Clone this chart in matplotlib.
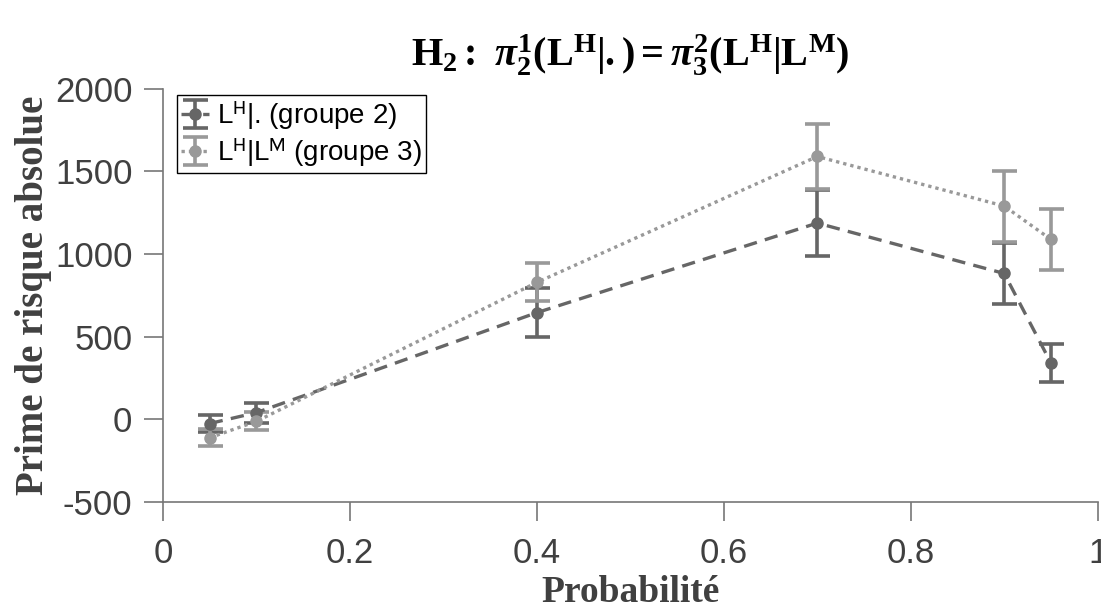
import numpy as np
import matplotlib
matplotlib.use('Agg')
import matplotlib.pyplot as plt

# données
probabilite = [0.05, 0.1, 0.4, 0.7, 0.9, 0.95]
prime_g2 = [-26, 40, 645, 1187, 882, 340]
err_g2 = [54, 60, 147, 202, 182, 113]
prime_g3 = [-112, -13, 828, 1590, 1290, 1088]
err_g3 = [52, 54, 115, 195, 215, 187]

plt.rcParams['font.family'] = ['Liberation Sans', 'DejaVu Sans']
plt.rcParams['axes.unicode_minus'] = False
plt.rcParams['mathtext.fontset'] = 'custom'
plt.rcParams['mathtext.rm'] = 'Liberation Serif:bold'
plt.rcParams['mathtext.it'] = 'Liberation Serif:italic:bold'
plt.rcParams['mathtext.bf'] = 'Liberation Serif:bold'

fig = plt.figure(figsize=(11.01, 6.12), dpi=100)
ax = fig.add_axes([0.148, 0.180, 0.849, 0.675])

fonce = '#666666'
clair = '#999999'

ax.errorbar(probabilite, prime_g2, yerr=err_g2, color=fonce, ls=(0, (4, 2.5)), lw=2.4,
            marker='o', ms=8, elinewidth=2.6, capsize=9, capthick=2.6,
            label=r'L$^{\rm H}$|. (groupe 2)')
ax.errorbar(probabilite, prime_g3, yerr=err_g3, color=clair, ls=(0, (1, 1.2)), lw=2.4,
            marker='o', ms=8, elinewidth=2.6, capsize=9, capthick=2.6,
            label=r'L$^{\rm H}$|L$^{\rm M}$ (groupe 3)')

ax.set_xlim(0, 1)
ax.set_ylim(-500, 2000)
ax.set_xticks([0, 0.2, 0.4, 0.6, 0.8, 1])
ax.set_xticklabels(['0', '0.2', '0.4', '0.6', '0.8', '1'])
ax.set_yticks([-500, 0, 500, 1000, 1500, 2000])
ax.spines['top'].set_visible(False)
ax.spines['right'].set_visible(False)
for s in ['left', 'bottom']:
    ax.spines[s].set_color('#777777')
    ax.spines[s].set_linewidth(1.2)
ax.tick_params(direction='out', length=14, width=1.2, color='#777777',
               labelsize=25, labelcolor='#404040', pad=8)
ax.tick_params(axis='x', pad=11)

ax.set_xlabel('Probabilité', family='Liberation Serif', weight='bold', fontsize=27,
              color='#404040', labelpad=4)
ax.set_ylabel('Prime de risque absolue', family='Liberation Serif', weight='bold', fontsize=28,
              color='#404040', labelpad=2)
ax.set_title(r'$\mathrm{H}_2\mathrm{:}\ \pi^1_2(\mathrm{L}^\mathrm{H}|.)=\pi^2_3(\mathrm{L}^\mathrm{H}|\mathrm{L}^\mathrm{M})$',
             fontsize=29, math_fontfamily='custom', pad=16)

leg = ax.legend(loc='upper left', bbox_to_anchor=(0.015, 0.985), fontsize=20,
                frameon=True, fancybox=False, framealpha=1, edgecolor='black',
                handlelength=1.0, handletextpad=0.3, borderpad=0.15, labelspacing=0.15,
                borderaxespad=0)
leg.get_frame().set_linewidth(1)
for t in leg.get_texts():
    t.set_math_fontfamily('stixsans')

fig.savefig('out.png', dpi=100)
